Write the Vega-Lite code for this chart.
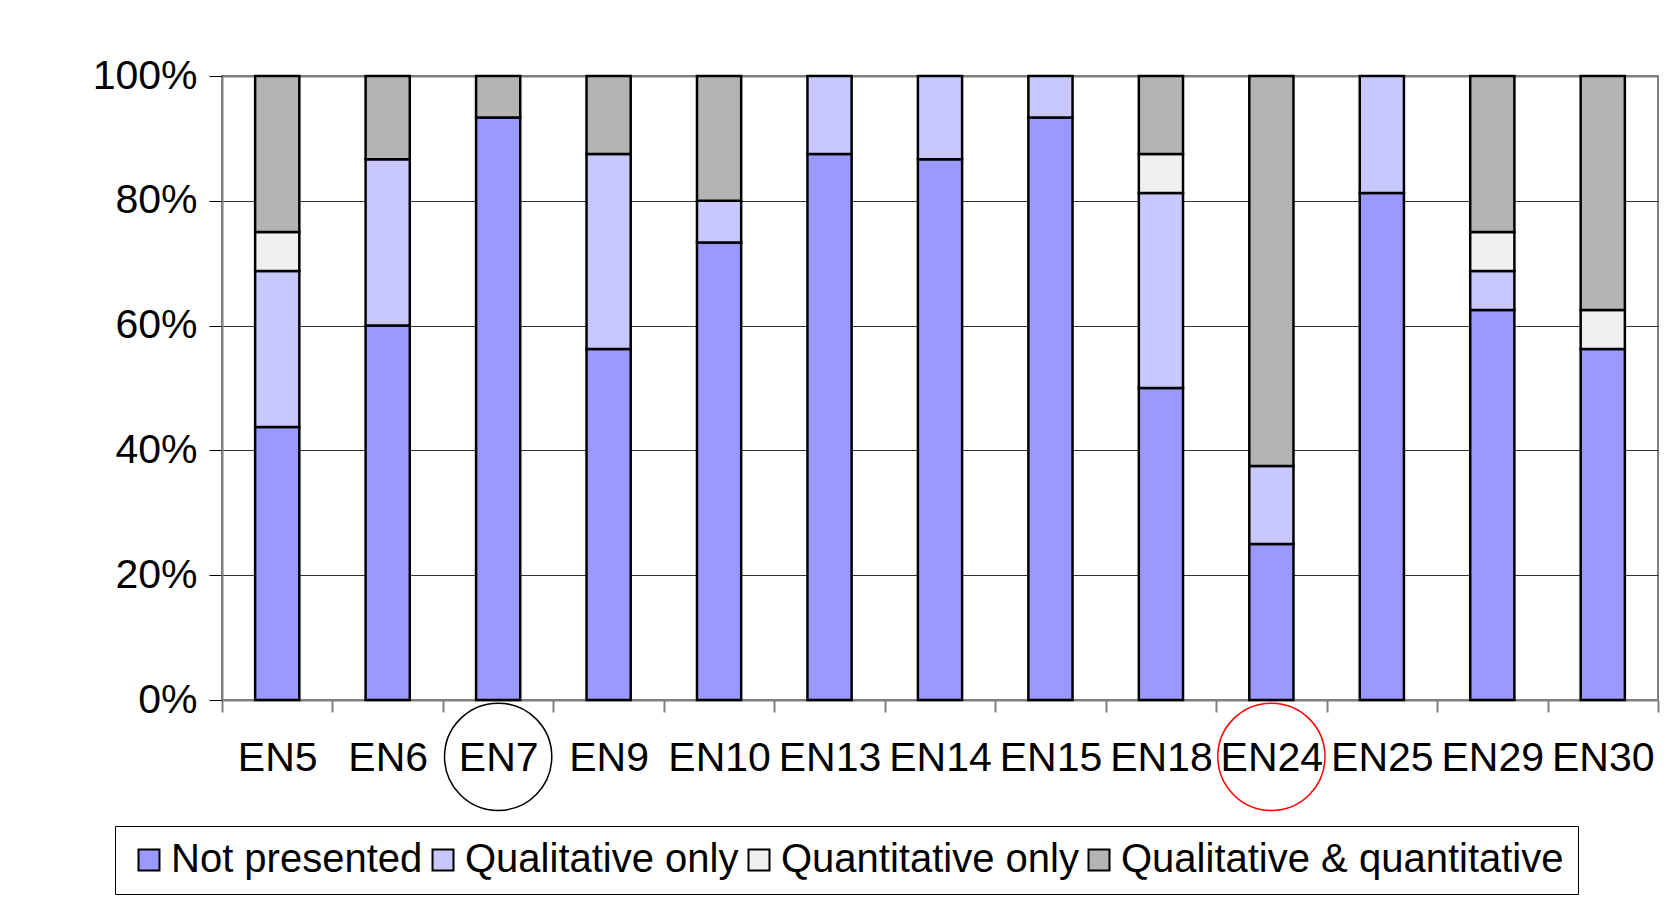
{
  "$schema": "https://vega.github.io/schema/vega-lite/v6.json",
  "width": 1436,
  "height": 624,
  "autosize": "none",
  "padding": {"left": 222, "top": 76, "right": 12, "bottom": 204},
  "background": "white",
  "config": {
    "font": "Liberation Sans",
    "view": {"stroke": "#808080", "strokeWidth": 2}
  },
  "datasets": {
    "bars": [
      {"cat": "EN5", "type": "Not presented", "pct": 43.75},
      {"cat": "EN5", "type": "Qualitative only", "pct": 25},
      {"cat": "EN5", "type": "Quantitative only", "pct": 6.25},
      {"cat": "EN5", "type": "Qualitative & quantitative", "pct": 25},
      {"cat": "EN6", "type": "Not presented", "pct": 60},
      {"cat": "EN6", "type": "Qualitative only", "pct": 26.67},
      {"cat": "EN6", "type": "Qualitative & quantitative", "pct": 13.33},
      {"cat": "EN7", "type": "Not presented", "pct": 93.33},
      {"cat": "EN7", "type": "Qualitative & quantitative", "pct": 6.67},
      {"cat": "EN9", "type": "Not presented", "pct": 56.25},
      {"cat": "EN9", "type": "Qualitative only", "pct": 31.25},
      {"cat": "EN9", "type": "Qualitative & quantitative", "pct": 12.5},
      {"cat": "EN10", "type": "Not presented", "pct": 73.33},
      {"cat": "EN10", "type": "Qualitative only", "pct": 6.67},
      {"cat": "EN10", "type": "Qualitative & quantitative", "pct": 20},
      {"cat": "EN13", "type": "Not presented", "pct": 87.5},
      {"cat": "EN13", "type": "Qualitative only", "pct": 12.5},
      {"cat": "EN14", "type": "Not presented", "pct": 86.67},
      {"cat": "EN14", "type": "Qualitative only", "pct": 13.33},
      {"cat": "EN15", "type": "Not presented", "pct": 93.33},
      {"cat": "EN15", "type": "Qualitative only", "pct": 6.67},
      {"cat": "EN18", "type": "Not presented", "pct": 50},
      {"cat": "EN18", "type": "Qualitative only", "pct": 31.25},
      {"cat": "EN18", "type": "Quantitative only", "pct": 6.25},
      {"cat": "EN18", "type": "Qualitative & quantitative", "pct": 12.5},
      {"cat": "EN24", "type": "Not presented", "pct": 25},
      {"cat": "EN24", "type": "Qualitative only", "pct": 12.5},
      {"cat": "EN24", "type": "Qualitative & quantitative", "pct": 62.5},
      {"cat": "EN25", "type": "Not presented", "pct": 81.25},
      {"cat": "EN25", "type": "Qualitative only", "pct": 18.75},
      {"cat": "EN29", "type": "Not presented", "pct": 62.5},
      {"cat": "EN29", "type": "Qualitative only", "pct": 6.25},
      {"cat": "EN29", "type": "Quantitative only", "pct": 6.25},
      {"cat": "EN29", "type": "Qualitative & quantitative", "pct": 25},
      {"cat": "EN30", "type": "Not presented", "pct": 56.25},
      {"cat": "EN30", "type": "Quantitative only", "pct": 6.25},
      {"cat": "EN30", "type": "Qualitative & quantitative", "pct": 37.5}
    ],
    "rings": [
      {"cat": "EN7", "y": -9.1, "ring": "EN7"},
      {"cat": "EN24", "y": -9.1, "ring": "EN24"}
    ]
  },
  "layer": [
    {
      "data": {"name": "bars"},
      "transform": [
        {"calculate": "indexof(['Not presented','Qualitative only','Quantitative only','Qualitative & quantitative'], datum.type)", "as": "ord"}
      ],
      "mark": {"type": "bar", "stroke": "black", "strokeWidth": 2.5, "width": {"band": 0.4}},
      "encoding": {
        "x": {
          "field": "cat", "type": "nominal", "sort": null, "title": null,
          "scale": {"paddingInner": 0, "paddingOuter": 0},
          "axis": {
            "labelAngle": 0, "labelFontSize": 41, "labelColor": "black",
            "labelPadding": 26, "tickBand": "extent", "tickSize": 12,
            "tickColor": "#808080", "tickWidth": 2, "domainColor": "#808080",
            "domainWidth": 2, "grid": false
          }
        },
        "y": {
          "field": "pct", "type": "quantitative", "stack": "zero", "title": null,
          "scale": {"domain": [0, 100], "nice": false},
          "axis": {
            "values": [0, 20, 40, 60, 80, 100],
            "labelExpr": "datum.value + '%'",
            "labelFontSize": 41, "labelColor": "black", "labelPadding": 12,
            "tickSize": 13, "tickColor": "black", "tickWidth": 1,
            "domainColor": "#808080", "domainWidth": 2,
            "grid": true,
            "gridColor": {"condition": {"test": "datum.value === 100", "value": "#808080"}, "value": "#333333"},
            "gridWidth": {"condition": {"test": "datum.value === 100", "value": 2}, "value": 1}
          }
        },
        "fill": {
          "field": "type", "type": "nominal",
          "scale": {
            "domain": ["Not presented", "Qualitative only", "Quantitative only", "Qualitative & quantitative"],
            "range": ["#9999ff", "#c8c8ff", "#f0f0f0", "#b4b4b4"]
          },
          "legend": {
            "orient": "none", "legendX": -107, "legendY": 750,
            "direction": "horizontal", "title": null,
            "labelFontSize": 40, "labelColor": "black", "labelLimit": 0,
            "symbolType": "square", "symbolSize": 440,
            "symbolStrokeColor": "black", "symbolStrokeWidth": 2,
            "strokeColor": "black", "padding": 14,
            "columnPadding": 0, "labelOffset": 2
          }
        },
        "order": {"field": "ord", "type": "quantitative"}
      }
    },
    {
      "data": {"name": "rings"},
      "mark": {"type": "point", "shape": "circle", "filled": false, "size": 11500, "strokeWidth": 1.5, "opacity": 1},
      "encoding": {
        "x": {"field": "cat", "type": "nominal", "sort": null, "title": null},
        "y": {"field": "y", "type": "quantitative", "title": null},
        "stroke": {
          "field": "ring", "type": "nominal",
          "scale": {"domain": ["EN7", "EN24"], "range": ["black", "red"]},
          "legend": null
        }
      }
    }
  ]
}
